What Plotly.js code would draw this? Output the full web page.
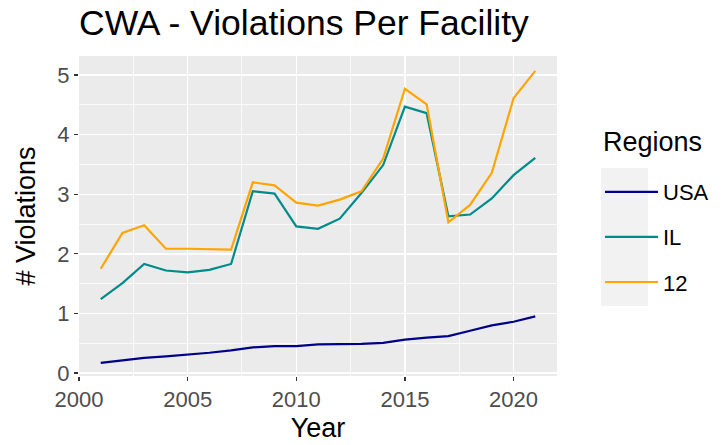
<!DOCTYPE html>
<html>
<head>
<meta charset="utf-8">
<script src="https://cdn.plot.ly/plotly-3.0.1.min.js"></script>
<style>html,body{margin:0;padding:0;background:#fff;}#chart{width:727px;height:445px;}</style>
</head>
<body>
<div id="chart"></div>
<script>
const years = [2001,2002,2003,2004,2005,2006,2007,2008,2009,2010,2011,2012,2013,2014,2015,2016,2017,2018,2019,2020,2021];
const usa = [0.17,0.21,0.255,0.28,0.305,0.34,0.38,0.43,0.45,0.45,0.48,0.48,0.49,0.505,0.56,0.595,0.62,0.71,0.80,0.86,0.95];
const il = [1.24,1.51,1.83,1.72,1.69,1.73,1.83,3.05,3.01,2.46,2.42,2.59,3.02,3.49,4.47,4.36,2.63,2.66,2.93,3.32,3.61];
const r12 = [1.75,2.35,2.48,2.085,2.085,2.08,2.07,3.20,3.15,2.86,2.81,2.91,3.05,3.60,4.77,4.51,2.53,2.82,3.36,4.61,5.07];
const seriesNames = ['USA','IL','12'];
const seriesColors = ['#00008B','#008B8B','#FFA500'];
const seriesValues = [usa, il, r12];
const legendTitle = 'Regions';

const FONT = 'Liberation Sans, Arial, sans-serif';
const traces = seriesValues.map((v,i)=>({
  x: years, y: v, type:'scatter', mode:'lines', name: seriesNames[i],
  legendgroup: 'g'+i,
  line:{color: seriesColors[i], width: 2.2}
}));

const L=79, R=557, T=56, B=376, W=727, H=445;
const pw=R-L, ph=B-T;
const px = v => (v-L)/pw;
const py = v => (B-v)/ph;

const layout = {
  width: W, height: H,
  margin:{l:L, r:W-R, t:T, b:H-B, pad:0},
  paper_bgcolor:'#FFFFFF',
  plot_bgcolor:'#EBEBEB',
  font:{family:FONT, color:'#000'},
  title:{text:'CWA - Violations Per Facility', font:{family:FONT,size:35.5,color:'#000'},
    xref:'paper', x:0, xanchor:'left', yref:'container', y:1-23/H, yanchor:'middle'},
  xaxis:{range:[2000,2022], tick0:2000, dtick:5, tickmode:'linear',
    showgrid:true, gridcolor:'#FFFFFF', gridwidth:1.5, zeroline:false, showline:false,
    ticks:'outside', ticklen:4, tickwidth:1.2, tickcolor:'#333333',
    tickfont:{family:FONT,size:22,color:'#4D4D4D'},
    minor:{dtick:2.5, tick0:2000, showgrid:true, gridcolor:'#FFFFFF', gridwidth:0.75, ticks:''},
    title:{text:'Year', font:{family:FONT,size:27,color:'#000'}, standoff:6}},
  yaxis:{range:[-0.05,5.32], tick0:0, dtick:1, tickmode:'linear',
    showgrid:true, gridcolor:'#FFFFFF', gridwidth:1.5, zeroline:false, showline:false,
    ticks:'outside', ticklen:4, tickwidth:1.2, tickcolor:'#333333',
    tickfont:{family:FONT,size:22,color:'#4D4D4D'},
    minor:{dtick:0.5, tick0:0, showgrid:true, gridcolor:'#FFFFFF', gridwidth:0.75, ticks:''},
    title:{text:'# Violations', font:{family:FONT,size:27,color:'#000'}, standoff:13}},
  legend:{x:px(600), xanchor:'left', y:py(171), yanchor:'top',
    bgcolor:'rgba(0,0,0,0)', borderwidth:0,
    font:{family:FONT,size:22,color:'#000'},
    tracegroupgap:13.5, itemwidth:53},
  annotations:[{text:legendTitle, xref:'paper', yref:'paper', x:px(601), y:py(142),
    xanchor:'left', yanchor:'middle', showarrow:false,
    font:{family:FONT,size:27,color:'#000'}}],
  shapes:[{type:'rect', xref:'paper', yref:'paper', layer:'below',
    x0:px(601), x1:px(648), y0:py(306), y1:py(168),
    fillcolor:'#F2F2F2', line:{width:0}}]
};
Plotly.newPlot('chart', traces, layout, {displayModeBar:false, staticPlot:true});
</script>
</body>
</html>
